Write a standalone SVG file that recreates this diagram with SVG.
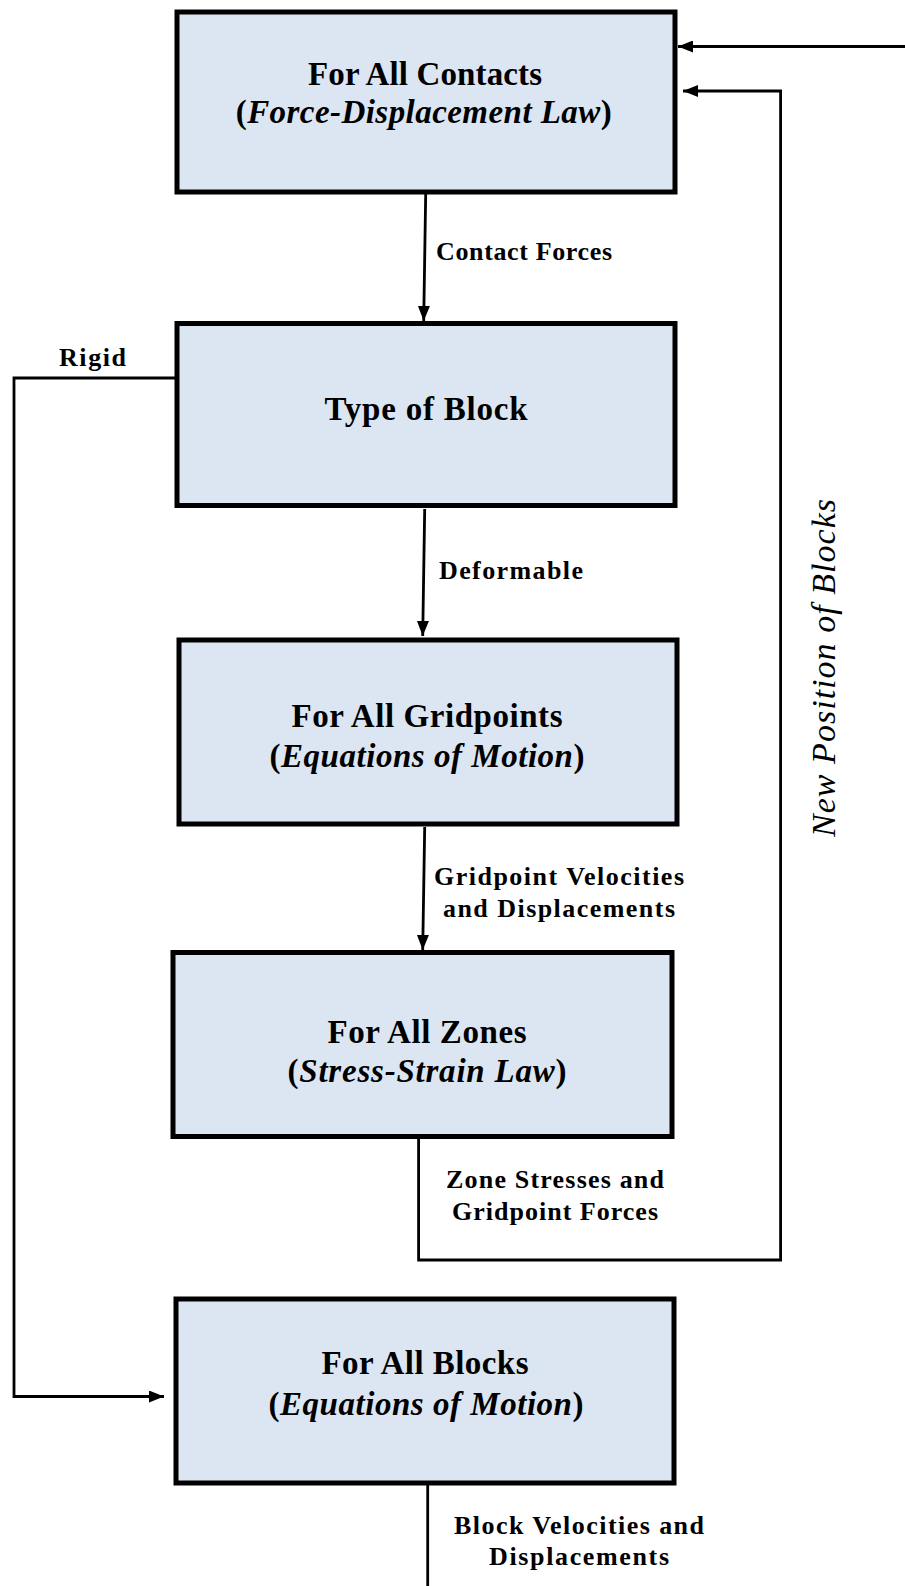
<svg xmlns="http://www.w3.org/2000/svg" width="905" height="1586" viewBox="0 0 905 1586">
<style>
.box{fill:#dce6f2;stroke:#000;stroke-width:5}
.big{font-family:"Liberation Serif",serif;font-size:33px;font-weight:bold;fill:#000;text-anchor:middle}
.lbl{font-family:"Liberation Serif",serif;font-size:26px;font-weight:bold;fill:#000}
.it{font-style:italic}
.con{fill:none;stroke:#000;stroke-width:2.8}
</style>
<defs>
<marker id="ah" markerUnits="userSpaceOnUse" markerWidth="15" markerHeight="12" refX="15" refY="6" orient="auto">
<path d="M0,0 L15,6 L0,12 z" fill="#000"/>
</marker>
</defs>
<g id="connectors">
<path class="con" d="M905,46.5 H678" marker-end="url(#ah)"/>
<path class="con" d="M418.6,1134 V1260 H780.6 V91 H683" marker-end="url(#ah)"/>
<path class="con" d="M425.7,194 L423.7,321" marker-end="url(#ah)"/>
<path class="con" d="M424.7,509 L422.7,636" marker-end="url(#ah)"/>
<path class="con" d="M424.7,827 L422.7,950" marker-end="url(#ah)"/>
<path class="con" d="M175,378 H14 V1396.5 H164" marker-end="url(#ah)"/>
<path class="con" d="M427.7,1484 V1586"/>
</g>
<g id="n1">
<rect class="box" x="177" y="12" width="498" height="180"/>
<text class="big" x="425" y="85" textLength="234" lengthAdjust="spacing">For All Contacts</text>
<text class="big" x="423.7" y="123" textLength="376" lengthAdjust="spacing">(<tspan class="it">Force-Displacement Law</tspan>)</text>
</g>
<g id="n2">
<rect class="box" x="177" y="323.5" width="498" height="182"/>
<text class="big" x="426" y="420" textLength="203" lengthAdjust="spacing">Type of Block</text>
</g>
<g id="n3">
<rect class="box" x="179" y="640" width="498" height="184"/>
<text class="big" x="427" y="727" textLength="271" lengthAdjust="spacing">For All Gridpoints</text>
<text class="big" x="427" y="766.5" textLength="315" lengthAdjust="spacing">(<tspan class="it">Equations of Motion</tspan>)</text>
</g>
<g id="n4">
<rect class="box" x="173" y="952.5" width="499" height="184"/>
<text class="big" x="427" y="1042.5" textLength="199" lengthAdjust="spacing">For All Zones</text>
<text class="big" x="427" y="1082" textLength="279" lengthAdjust="spacing">(<tspan class="it">Stress-Strain Law</tspan>)</text>
</g>
<g id="n5">
<rect class="box" x="176" y="1299" width="498" height="184"/>
<text class="big" x="425" y="1374" textLength="207" lengthAdjust="spacing">For All Blocks</text>
<text class="big" x="426" y="1414.5" textLength="315" lengthAdjust="spacing">(<tspan class="it">Equations of Motion</tspan>)</text>
</g>
<g id="labels">
<text class="lbl" x="436" y="260" textLength="176" lengthAdjust="spacing">Contact Forces</text>
<text class="lbl" x="59" y="366" textLength="67" lengthAdjust="spacing">Rigid</text>
<text class="lbl" x="439" y="578.5" textLength="144" lengthAdjust="spacing">Deformable</text>
<text class="lbl" x="434" y="885" textLength="250" lengthAdjust="spacing">Gridpoint Velocities</text>
<text class="lbl" x="443" y="917" textLength="232" lengthAdjust="spacing">and Displacements</text>
<text class="lbl" x="446" y="1188" textLength="218" lengthAdjust="spacing">Zone Stresses and</text>
<text class="lbl" x="452" y="1219.5" textLength="206" lengthAdjust="spacing">Gridpoint Forces</text>
<text class="lbl" x="454" y="1534" textLength="250" lengthAdjust="spacing">Block Velocities and</text>
<text class="lbl" x="489" y="1565" textLength="180" lengthAdjust="spacing">Displacements</text>
<text transform="translate(835,668) rotate(-90)" font-family="Liberation Serif, serif" font-size="34" font-style="italic" text-anchor="middle" textLength="338" lengthAdjust="spacing">New Position of Blocks</text>
</g>
</svg>
